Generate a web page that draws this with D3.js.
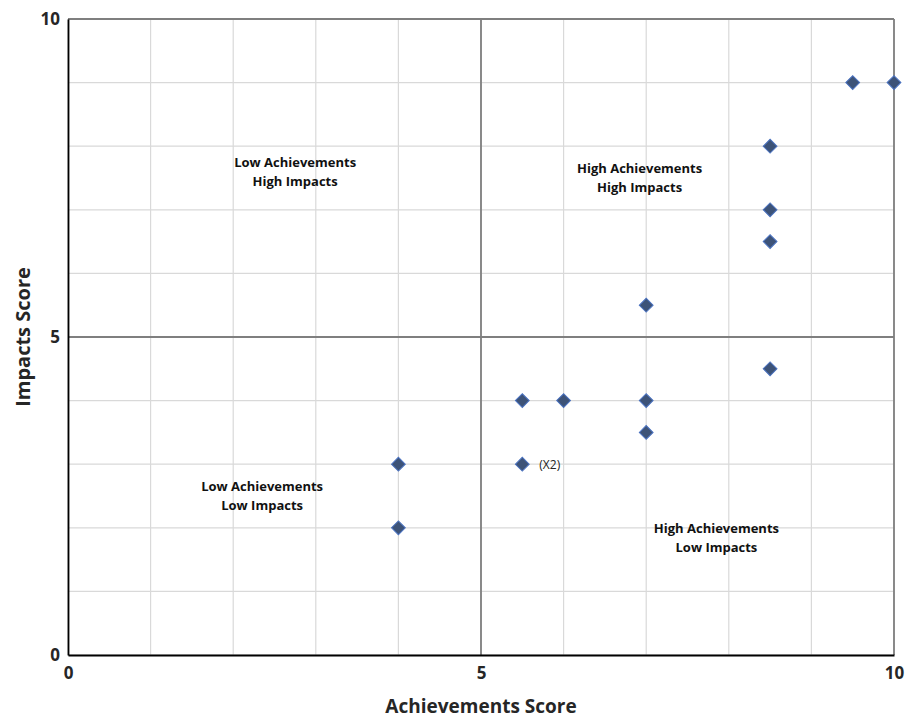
<!DOCTYPE html>
<html>
<head>
<meta charset="utf-8">
<script src="https://cdn.jsdelivr.net/npm/d3@7"></script>
<style>
  body { margin: 0; background: #fff; }
  text { font-family: "Open Sans", "Noto Sans", sans-serif; }
</style>
</head>
<body>
<svg id="chart" width="907" height="719"></svg>
<script>
// achievements (x) vs impacts (y)
const achievements = [4, 4, 5.5, 5.5, 6, 7, 7, 7, 8.5, 8.5, 8.5, 8.5, 9.5, 10];
const impacts      = [3, 2, 4, 3, 4, 5.5, 4, 3.5, 8, 7, 6.5, 4.5, 9, 9];
const pointNotes   = ["", "", "", "(X2)", "", "", "", "", "", "", "", "", "", ""];

const tickValues = [0, 5, 10];
const gridValues = d3.range(0, 11);

const quadrantLabels = [
  { x: 2.75, y: 7.6, lines: ["Low Achievements", "High Impacts"] },
  { x: 6.92, y: 7.5, lines: ["High Achievements", "High Impacts"] },
  { x: 2.35, y: 2.5, lines: ["Low Achievements", "Low Impacts"] },
  { x: 7.85, y: 1.85, lines: ["High Achievements", "Low Impacts"] }
];

const width = 907, height = 719;
const margin = { top: 19, right: 13, bottom: 64, left: 68 };
const innerWidth = width - margin.left - margin.right;
const innerHeight = height - margin.top - margin.bottom;

const svg = d3.select("#chart");
const chart = svg.append("g")
  .attr("transform", `translate(${margin.left}, ${margin.top})`);

const xScale = d3.scaleLinear().domain([0, 10]).range([0, innerWidth]);
const yScale = d3.scaleLinear().domain([0, 10]).range([innerHeight, 0]);

// light grid
chart.append("g")
  .selectAll("line")
  .data(gridValues)
  .join("line")
  .attr("x1", d => xScale(d)).attr("x2", d => xScale(d))
  .attr("y1", 0).attr("y2", innerHeight)
  .attr("stroke", "#d9d9d9").attr("stroke-width", 1.2);

chart.append("g")
  .selectAll("line")
  .data(gridValues)
  .join("line")
  .attr("x1", 0).attr("x2", innerWidth)
  .attr("y1", d => yScale(d)).attr("y2", d => yScale(d))
  .attr("stroke", "#d9d9d9").attr("stroke-width", 1.2);

// quadrant dividers + top/right border
const borderColor = "#7f7f7f";
const borders = [
  [xScale(5), 0, xScale(5), innerHeight],
  [0, yScale(5), innerWidth, yScale(5)],
  [0, yScale(10), innerWidth, yScale(10)],
  [xScale(10), 0, xScale(10), innerHeight]
];
chart.append("g")
  .selectAll("line")
  .data(borders)
  .join("line")
  .attr("x1", d => d[0]).attr("y1", d => d[1])
  .attr("x2", d => d[2]).attr("y2", d => d[3])
  .attr("stroke", borderColor).attr("stroke-width", 1.8);

// axes
const xAxis = chart.append("g")
  .attr("transform", `translate(0, ${innerHeight})`)
  .call(d3.axisBottom(xScale).tickValues(tickValues).tickSize(0).tickPadding(12));
const yAxis = chart.append("g")
  .call(d3.axisLeft(yScale).tickValues(tickValues).tickSize(0).tickPadding(8));

[xAxis, yAxis].forEach(ax => {
  ax.select(".domain").attr("stroke", "#000").attr("stroke-width", 1.8);
  ax.selectAll("text")
    .attr("fill", "#262626")
    .style("font-family", "'Open Sans', sans-serif")
    .style("font-size", "17px")
    .style("font-weight", "bold");
});

// quadrant labels
quadrantLabels.forEach(q => {
  const t = chart.append("text")
    .attr("x", xScale(q.x))
    .attr("y", yScale(q.y))
    .attr("text-anchor", "middle")
    .style("font-size", "13px")
    .style("font-weight", "bold")
    .attr("fill", "#111");
  q.lines.forEach((l, i) => {
    t.append("tspan")
      .attr("x", xScale(q.x))
      .attr("dy", i === 0 ? "-0.35em" : "1.45em")
      .text(l);
  });
});

// points
const points = achievements.map((a, i) => ({ x: a, y: impacts[i], note: pointNotes[i] }));
chart.append("g")
  .selectAll("path")
  .data(points)
  .join("path")
  .attr("transform", d => `translate(${xScale(d.x)}, ${yScale(d.y)}) rotate(45)`)
  .attr("d", d3.symbol().type(d3.symbolSquare).size(95))
  .attr("fill", "#3d5378")
  .attr("stroke", "#4a72c0")
  .attr("stroke-width", 1);

chart.append("g")
  .selectAll("text")
  .data(points.filter(d => d.note))
  .join("text")
  .attr("x", d => xScale(d.x) + 17)
  .attr("y", d => yScale(d.y) + 5)
  .style("font-size", "12px")
  .attr("fill", "#222")
  .text(d => d.note);

// axis titles
svg.append("text")
  .attr("x", margin.left + xScale(5))
  .attr("y", 713)
  .attr("text-anchor", "middle")
  .style("font-size", "19px")
  .style("font-weight", "bold")
  .attr("fill", "#262626")
  .text("Achievements Score");

svg.append("text")
  .attr("transform", "rotate(-90)")
  .attr("x", -(margin.top + yScale(5)))
  .attr("y", 30)
  .attr("text-anchor", "middle")
  .style("font-size", "20px")
  .style("font-weight", "bold")
  .attr("fill", "#262626")
  .text("Impacts Score");
</script>
</body>
</html>
